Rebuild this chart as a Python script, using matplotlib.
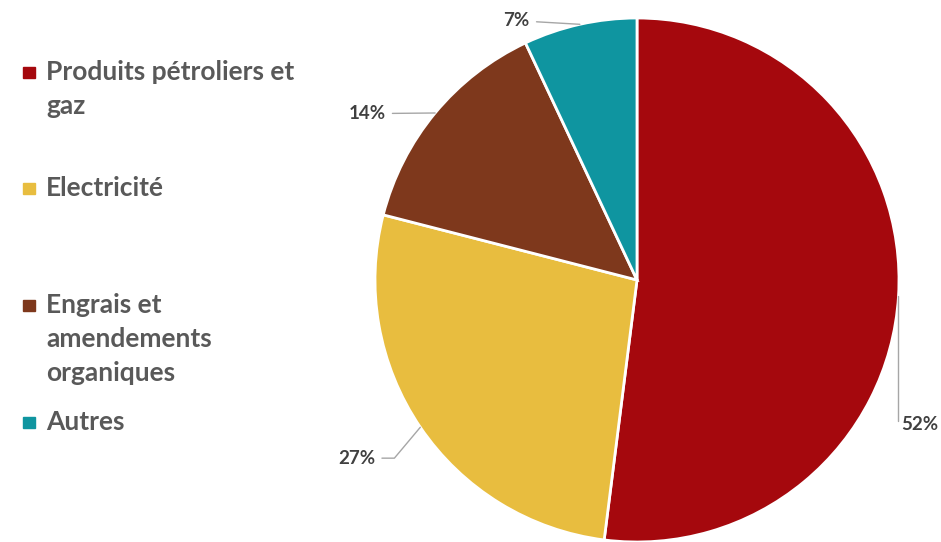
import matplotlib.pyplot as plt
from matplotlib.patches import Rectangle
import numpy as np

categories = ["Produits pétroliers et\ngaz", "Electricité",
              "Engrais et\namendements\norganiques", "Autres"]
shares = [52, 27, 14, 7]
colors = ["#A5080D", "#E8BD3F", "#7E381C", "#0F95A0"]

# label placement (data units, radius = 1) and leader style
label_xy = [(1.01, -0.553), (-1.0, -0.68), (-0.96, 0.635), (-0.41, 0.99)]
label_ha = ["left", "right", "right", "right"]
conn = ["angle,angleA=0,angleB=90,rad=0",
        "angle,angleA=0,angleB=50,rad=0",
        "arc3,rad=0", "arc3,rad=0"]

fig = plt.figure(figsize=(9.41, 5.42), dpi=100)
ax = fig.add_axes([375 / 941, 0, 524 / 941, 524 / 542])
wedges, _ = ax.pie(shares, colors=colors, startangle=90, counterclock=False,
                   wedgeprops=dict(edgecolor="white", linewidth=2))
ax.set_xlim(-1, 1)
ax.set_ylim(-1, 1)
ax.set_aspect("equal")
ax.axis("off")

for w, val, xy, ha, cs in zip(wedges, shares, label_xy, label_ha, conn):
    mid = np.deg2rad((w.theta1 + w.theta2) / 2)
    pt = (np.cos(mid), np.sin(mid))
    ax.annotate(f"{val}%", xy=pt, xytext=xy, ha=ha, va="center",
                fontsize=13.5, fontweight="bold", color="#404040",
                family="Lato", annotation_clip=False,
                arrowprops=dict(arrowstyle="-", color="#A6A6A6", lw=1,
                                connectionstyle=cs, shrinkA=3, shrinkB=0))

# legend drawn by hand to match the uneven spacing (first-line baselines, px)
leg_base = [80, 196, 313, 430]
pitch = 34
for lab, c, yb in zip(categories, colors, leg_base):
    yc = yb - 8
    fig.patches.append(Rectangle((23 / 941, 1 - (yc + 6) / 542), 12 / 941, 11 / 542,
                                 transform=fig.transFigure, color=c))
    for i, line in enumerate(lab.split("\n")):
        fig.text(46 / 941, 1 - (yb + i * pitch) / 542, line, ha="left",
                 va="baseline", fontsize=19, fontweight="bold",
                 color="#595959", family="Lato")

fig.savefig("out.png", dpi=100, facecolor="white")
